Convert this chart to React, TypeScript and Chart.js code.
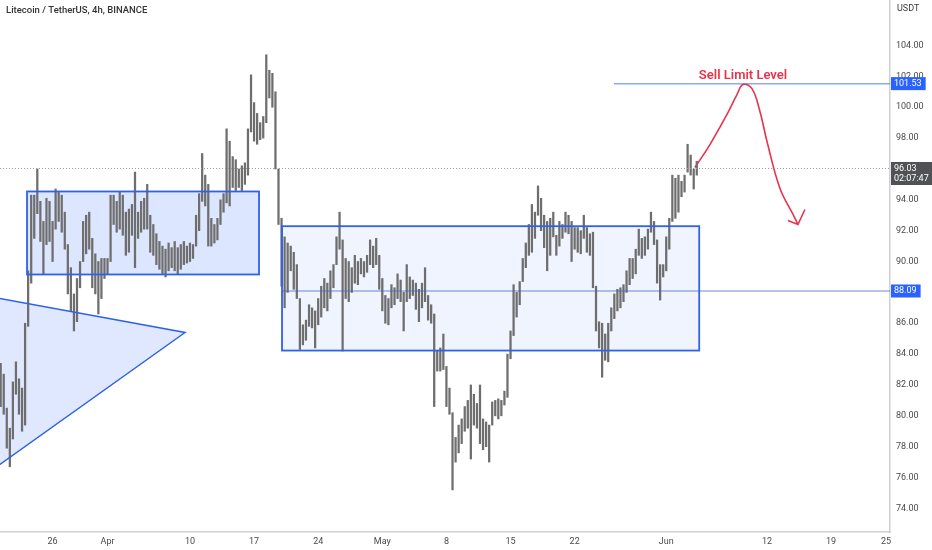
import { useEffect, useRef } from 'react';
import { Chart, registerables } from 'chart.js';

Chart.register(...registerables);

// ---- time axis: days counted from 1 April 00:00 ----
const FIRST_CANDLE_DAY = -11.667; // first 8h candle (20 Mar 08:00)
const CANDLE_STEP_DAY = 1 / 3; // 8 hours

// candle highs / lows (USDT)
const highs = [
  83.4, 82.7, 80.5, 79.2, 82.2, 83.5, 82.4, 81.8, 86.0, 89.4,
  94.3, 94.3, 96.0, 93.9, 92.6, 94.1, 93.9, 92.6, 94.7, 94.5,
  94.3, 93.2, 91.1, 89.6, 87.9, 88.9, 90.0, 92.6, 93.0, 93.2,
  91.5, 90.5, 90.0, 90.2, 90.2, 90.2, 94.3, 94.3, 93.9, 94.5,
  94.3, 93.2, 93.4, 93.7, 95.8, 93.2, 93.9, 94.1, 95.0, 93.0,
  92.4, 91.8, 91.3, 91.0, 90.8, 91.2, 90.9, 91.3, 90.9, 91.1,
  91.3, 91.0, 91.2, 91.1, 93.0, 94.4, 97.0, 95.6, 95.0, 92.8,
  92.4, 92.8, 94.0, 94.4, 98.6, 97.8, 96.8, 96.6, 96.0, 96.2,
  96.4, 98.6, 102.1, 100.3, 99.6, 99.0, 99.4, 103.4, 102.4, 102.2,
  101.0, 96.0, 92.8, 91.6, 91.2, 91.0, 90.6, 89.8, 87.6, 85.9,
  86.2, 87.2, 87.0, 86.8, 87.6, 88.4, 88.9, 88.6, 89.4, 89.8,
  91.6, 93.2, 91.4, 90.2, 90.0, 89.6, 90.4, 90.0, 90.2, 90.0,
  90.4, 91.4, 91.0, 91.5, 90.4, 88.9, 87.8, 87.6, 88.5, 88.3,
  89.2, 88.8, 88.0, 89.8, 89.0, 88.8, 88.6, 88.2, 88.6, 89.6,
  87.8, 87.2, 86.6, 84.2, 84.4, 85.3, 83.2, 81.8, 80.2, 78.6,
  79.4, 79.8, 80.6, 81.0, 82.0, 81.4, 80.8, 82.0, 79.8, 79.6,
  79.4, 80.9, 81.0, 81.1, 81.0, 81.6, 84.0, 85.5, 88.5, 88.0,
  88.7, 90.2, 91.2, 92.4, 93.7, 93.2, 94.9, 94.1, 93.0, 92.6,
  92.8, 93.2, 91.7, 92.6, 92.4, 93.2, 93.0, 92.6, 92.2, 92.2,
  92.0, 93.0, 92.2, 91.8, 91.9, 88.4, 86.1, 86.0, 85.3, 86.0,
  87.0, 87.9, 88.2, 88.3, 88.5, 89.4, 90.2, 90.2, 90.8, 92.1,
  91.5, 91.6, 92.1, 93.2, 92.6, 91.4, 89.8, 89.8, 91.6, 92.8,
  95.6, 95.4, 95.6, 95.2, 95.6, 97.6, 96.9, 96.0, 96.5,
];
const lows = [
  80.6, 80.1, 77.9, 76.7, 78.5, 81.4, 80.1, 79.0, 79.4, 85.8,
  88.6, 91.5, 93.1, 91.3, 89.2, 91.1, 91.3, 90.0, 92.1, 92.6,
  91.9, 90.8, 87.9, 86.8, 85.5, 86.1, 88.3, 90.0, 90.5, 90.8,
  88.3, 87.9, 86.6, 87.6, 88.9, 89.2, 90.0, 92.4, 91.9, 92.1,
  91.7, 90.4, 90.6, 91.7, 89.6, 91.5, 91.9, 92.1, 92.1, 90.6,
  90.4, 89.8, 89.5, 89.2, 89.0, 89.4, 89.6, 89.4, 89.2, 89.5,
  89.8, 89.9, 90.0, 90.2, 91.0, 92.0, 93.9, 93.6, 91.0, 91.0,
  91.2, 91.4, 92.4, 93.2, 93.8, 93.6, 94.8, 94.6, 94.8, 94.6,
  95.0, 95.6, 98.4, 97.8, 97.6, 97.9, 98.0, 99.0, 100.6, 100.0,
  96.0, 92.4, 88.4, 87.0, 88.0, 89.4, 88.2, 87.6, 84.3, 84.6,
  84.9, 85.8, 85.7, 84.4, 85.9, 86.4, 87.0, 86.8, 87.6, 88.3,
  89.8, 90.8, 84.2, 87.6, 87.4, 88.0, 88.6, 88.5, 89.2, 89.0,
  89.3, 89.8, 89.6, 89.8, 88.2, 86.8, 86.0, 85.9, 87.0, 87.2,
  87.6, 87.4, 85.5, 87.4, 87.6, 87.8, 86.9, 86.1, 87.0, 87.4,
  86.2, 86.0, 80.6, 82.9, 82.9, 83.0, 80.6, 80.1, 75.2, 77.0,
  77.6, 78.2, 79.0, 79.2, 77.2, 79.4, 79.2, 78.2, 77.8, 78.0,
  77.0, 79.4, 80.0, 79.8, 80.0, 80.7, 81.2, 83.7, 85.2, 86.4,
  87.2, 88.7, 89.6, 90.4, 90.6, 91.5, 93.0, 92.0, 90.9, 89.4,
  90.4, 91.6, 90.4, 91.0, 91.5, 91.9, 91.8, 90.0, 90.8, 90.6,
  90.5, 91.5, 90.6, 90.4, 88.3, 85.5, 84.4, 82.5, 83.6, 83.5,
  85.5, 86.3, 86.8, 87.0, 87.4, 88.0, 88.5, 88.9, 89.2, 90.4,
  90.2, 90.4, 90.8, 91.9, 91.1, 88.6, 87.5, 89.0, 89.4, 90.8,
  92.6, 92.8, 93.2, 94.2, 94.5, 95.8, 95.6, 94.7, 95.6,
];

// ---- axis ticks ----
const dateTickDays = [-6, 0, 9, 16, 23, 30, 37, 44, 51, 61, 72, 79, 85];
const dateTickLabels = ['26', 'Apr', '10', '17', '24', 'May', '8', '15', '22', 'Jun', '12', '19', '25'];
const priceTicks = [74, 76, 78, 80, 82, 84, 86, 88, 90, 92, 94, 96, 98, 100, 102, 104];

const X_RANGE = [-11.74, 85.43];
const Y_RANGE = [72.47, 106.95];

// ---- drawings (data coordinates: [day, price]) ----
const upperBox = [-8.79, 16.54, 89.16, 94.54]; // x0, x1, low, high
const lowerBox = [19.05, 64.6, 84.23, 92.29];
const triangleDays = [-14, 8.46, -14];
const trianglePrices = [87.85, 85.4, 75.9];
const midLevel = 88.09;
const midLevelStartDay = 19.05;
const sellLevel = 101.53;
const sellLevelStartDay = 55.3;
const lastPrice = 96.03;
const countdown = '02:07:47';
const curveDays = [64.13, 65.77, 67.63, 68.72, 69.38, 70.36, 71.23, 72.0, 73.42, 74.84, 75.38];
const curvePrices = [96.09, 97.58, 99.53, 100.82, 101.47, 101.21, 99.72, 97.78, 94.73, 93.05, 92.4];
const arrowDays = [74.29, 75.38, 76.14];
const arrowPrices = [92.66, 92.4, 93.37];
const sellText = 'Sell Limit Level';
const sellTextAt = [69.38, 102.06];
const titleText = 'Litecoin / TetherUS, 4h, BINANCE';
const currencyText = 'USDT';

const FONT = 'Roboto, "Liberation Sans", sans-serif';
const BLUE = '#2f62e8';
const RED = '#e8344b';

const overlayPlugin = {
  id: 'overlay',
  beforeDatasetsDraw(chart: any) {
    const { ctx, chartArea: a, scales } = chart;
    const x = scales.x, y = scales.y;
    ctx.save();
    ctx.beginPath();
    ctx.rect(a.left, a.top, a.right - a.left, a.bottom - a.top);
    ctx.clip();
    ctx.beginPath();
    triangleDays.forEach((d, i) => {
      const px = x.getPixelForValue(d), py = y.getPixelForValue(trianglePrices[i]);
      if (i === 0) ctx.moveTo(px, py); else ctx.lineTo(px, py);
    });
    ctx.closePath();
    ctx.fillStyle = 'rgba(41,98,255,0.15)';
    ctx.fill();
    const fillBox = (b: number[], c: string) => {
      const x0 = x.getPixelForValue(b[0]), x1 = x.getPixelForValue(b[1]);
      const y0 = y.getPixelForValue(b[3]), y1 = y.getPixelForValue(b[2]);
      ctx.fillStyle = c;
      ctx.fillRect(x0, y0, x1 - x0, y1 - y0);
    };
    fillBox(upperBox, 'rgba(41,98,255,0.16)');
    fillBox(lowerBox, 'rgba(41,98,255,0.07)');
    ctx.restore();
  },
  afterDatasetsDraw(chart: any) {
    const { ctx, chartArea: a, scales } = chart;
    const x = scales.x, y = scales.y;
    ctx.save();
    ctx.beginPath();
    ctx.rect(a.left, a.top, a.right - a.left, a.bottom - a.top);
    ctx.clip();
    ctx.strokeStyle = BLUE;
    ctx.lineWidth = 1.5;
    ctx.beginPath();
    triangleDays.forEach((d, i) => {
      const px = x.getPixelForValue(d), py = y.getPixelForValue(trianglePrices[i]);
      if (i === 0) ctx.moveTo(px, py); else ctx.lineTo(px, py);
    });
    ctx.stroke();
    const strokeBox = (b: number[]) => {
      const x0 = x.getPixelForValue(b[0]), x1 = x.getPixelForValue(b[1]);
      const y0 = y.getPixelForValue(b[3]), y1 = y.getPixelForValue(b[2]);
      ctx.strokeStyle = BLUE;
      ctx.lineWidth = 1.8;
      ctx.strokeRect(x0, y0, x1 - x0, y1 - y0);
    };
    strokeBox(upperBox);
    strokeBox(lowerBox);
    ctx.strokeStyle = '#9b9b9b';
    ctx.lineWidth = 1;
    ctx.setLineDash([1, 2]);
    const ly = Math.round(y.getPixelForValue(lastPrice)) + 0.5;
    ctx.beginPath();
    ctx.moveTo(a.left, ly);
    ctx.lineTo(a.right, ly);
    ctx.stroke();
    ctx.setLineDash([]);
    const hLine = (p: number, d0: number, c: string, w: number) => {
      const py = y.getPixelForValue(p);
      ctx.strokeStyle = c;
      ctx.lineWidth = w;
      ctx.beginPath();
      ctx.moveTo(x.getPixelForValue(d0), py);
      ctx.lineTo(a.right, py);
      ctx.stroke();
    };
    hLine(midLevel, midLevelStartDay, 'rgba(60,100,200,0.5)', 1.5);
    hLine(sellLevel, sellLevelStartDay, 'rgba(41,98,255,0.55)', 1.5);
    ctx.fillStyle = RED;
    ctx.font = `600 13px ${FONT}`;
    ctx.textAlign = 'center';
    ctx.textBaseline = 'middle';
    ctx.fillText(sellText, x.getPixelForValue(sellTextAt[0]), y.getPixelForValue(sellTextAt[1]));
    ctx.restore();
  },
  afterDraw(chart: any) {
    const { ctx, chartArea: a, scales } = chart;
    const y = scales.y;
    ctx.save();
    const tag = (p: number, lines: string[], bg: string) => {
      ctx.font = `9px ${FONT}`;
      const w = Math.max(...lines.map((l) => ctx.measureText(l).width)) + 7;
      const h = lines.length * 10 + 3;
      const cy = y.getPixelForValue(p);
      const top = cy - 6.5;
      ctx.fillStyle = bg;
      ctx.fillRect(a.right + 1, top, w, h);
      ctx.fillStyle = '#ffffff';
      ctx.textAlign = 'left';
      ctx.textBaseline = 'middle';
      lines.forEach((l, i) => ctx.fillText(l, a.right + 4, top + 6.5 + i * 10));
    };
    tag(sellLevel, [sellLevel.toFixed(2)], '#2962ff');
    tag(midLevel, [midLevel.toFixed(2)], '#2962ff');
    tag(lastPrice, [lastPrice.toFixed(2), countdown], '#505256');
    ctx.fillStyle = '#3a3a3a';
    ctx.font = `9px ${FONT}`;
    ctx.textAlign = 'left';
    ctx.textBaseline = 'middle';
    ctx.fillText(currencyText, a.right + 7, 9);
    ctx.fillStyle = '#333333';
    ctx.font = `500 9.5px ${FONT}`;
    ctx.fillText(titleText, 6, 11);
    ctx.restore();
  },
};

export default function App() {
  const ref = useRef<HTMLCanvasElement | null>(null);
  useEffect(() => {
    document.body.style.margin = '0';
    const candles = highs.map((h, i) => ({ x: FIRST_CANDLE_DAY + i * CANDLE_STEP_DAY, y: [lows[i], h] }));
    const curve = curveDays.map((d, i) => ({ x: d, y: curvePrices[i] }));
    const arrow = arrowDays.map((d, i) => ({ x: d, y: arrowPrices[i] }));
    const chart = new Chart(ref.current as HTMLCanvasElement, {
      type: 'bar',
      data: {
        datasets: [
          {
            type: 'bar',
            data: candles as any,
            backgroundColor: '#6e6e6e',
            borderWidth: 0,
            barThickness: 1.6,
            grouped: false,
          } as any,
          {
            type: 'line',
            data: curve as any,
            borderColor: RED,
            borderWidth: 1.6,
            pointRadius: 0,
            tension: 0.4,
            fill: false,
          } as any,
          {
            type: 'line',
            data: arrow as any,
            borderColor: RED,
            borderWidth: 1.6,
            pointRadius: 0,
            tension: 0,
            fill: false,
          } as any,
        ],
      },
      options: {
        responsive: false,
        animation: false,
        events: [],
        layout: { padding: 0 },
        plugins: { legend: { display: false }, tooltip: { enabled: false } },
        scales: {
          x: {
            type: 'linear',
            min: X_RANGE[0],
            max: X_RANGE[1],
            offset: false,
            grid: { display: false, drawTicks: false },
            border: { display: true, color: '#d0d0d0', width: 1.5 },
            afterBuildTicks: (s: any) => {
              s.ticks = dateTickDays.map((v) => ({ value: v }));
            },
            afterFit: (s: any) => {
              s.height = 18;
              s.paddingLeft = 0;
              s.paddingRight = 0;
            },
            ticks: {
              autoSkip: false,
              maxRotation: 0,
              padding: 4,
              color: '#4a4a4a',
              font: { family: FONT, size: 9 },
              callback: (v: any) => {
                const k = dateTickDays.indexOf(Number(v));
                return k >= 0 ? dateTickLabels[k] : '';
              },
            },
          },
          y: {
            type: 'linear',
            position: 'right',
            min: Y_RANGE[0],
            max: Y_RANGE[1],
            grid: { display: false, drawTicks: false },
            border: { display: true, color: '#d0d0d0', width: 1.5 },
            afterBuildTicks: (s: any) => {
              s.ticks = priceTicks.map((v) => ({ value: v }));
            },
            afterFit: (s: any) => {
              s.width = 42;
              s.paddingTop = 0;
              s.paddingBottom = 0;
            },
            ticks: {
              padding: 6,
              color: '#4a4a4a',
              font: { family: FONT, size: 9 },
              callback: (v: any) => Number(v).toFixed(2),
            },
          },
        },
      },
      plugins: [overlayPlugin],
    });
    return () => chart.destroy();
  }, []);
  return (
    <div style={{ width: 932, height: 550 }}>
      <canvas ref={ref} width={932} height={550} />
    </div>
  );
}
